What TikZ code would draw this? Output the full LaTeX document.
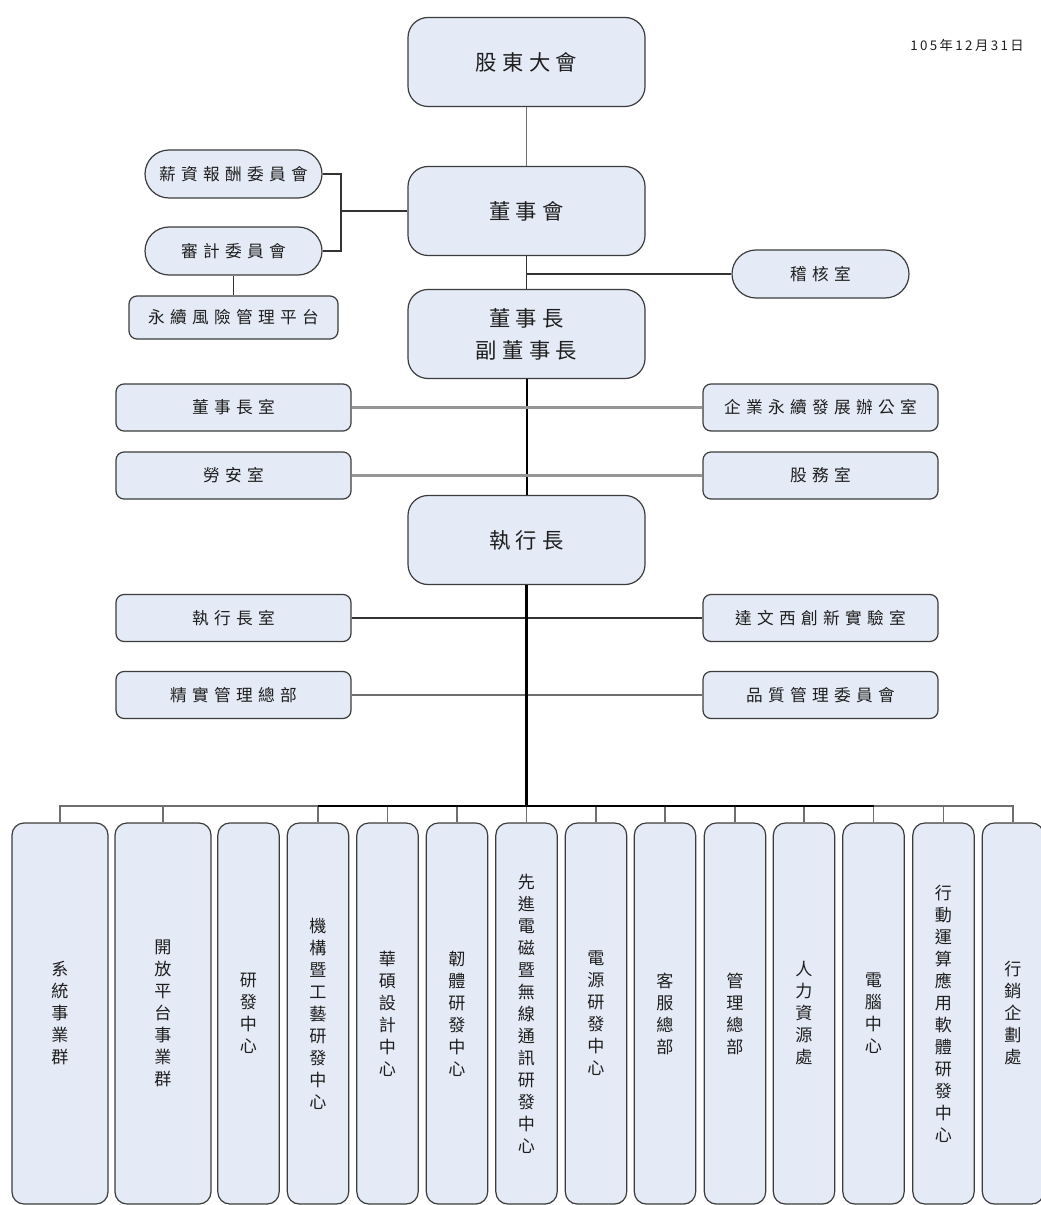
\documentclass[tikz,border=0pt]{standalone}
\usepackage{fontspec}
\newfontfamily\cjk{Noto Sans CJK TC}
\newfontfamily\cjkbig[LetterSpace=25]{Noto Sans CJK TC}
\newfontfamily\cjkmid[LetterSpace=32]{Noto Sans CJK TC}
\newfontfamily\cjkdate[LetterSpace=18]{Noto Sans CJK TC}
\definecolor{boxfill}{RGB}{229,235,246}
\definecolor{boxdraw}{RGB}{60,60,60}
\definecolor{txt}{RGB}{30,30,30}
\definecolor{lgray}{RGB}{150,150,150}
\definecolor{mgray}{RGB}{110,110,110}
\tikzset{
  basebox/.style={draw=boxdraw, fill=boxfill, line width=0.9pt, inner sep=0pt, align=center, text=txt},
  bigbox/.style={basebox, rounded corners=15pt, minimum width=177.75pt, minimum height=66.75pt, font={\cjkbig\fontsize{16}{24}\selectfont}},
  pillbox/.style={basebox, rounded corners=18pt, minimum width=132.75pt, minimum height=36pt, font={\cjkmid\fontsize{12.5}{15}\selectfont}},
  sidebox/.style={basebox, rounded corners=6pt, minimum width=176.25pt, minimum height=35.25pt, font={\cjkmid\fontsize{12.5}{15}\selectfont}},
  riskbox/.style={sidebox, minimum width=156.75pt, minimum height=32.25pt},
  vbox/.style={basebox, rounded corners=9pt, minimum height=285.75pt, font={\cjk\fontsize{12.8}{16.5}\selectfont}},
  widebox/.style={vbox, minimum width=72pt},
  narrowbox/.style={vbox, minimum width=46pt},
  thinline/.style={draw=mgray, line width=0.9pt},
  darkline/.style={draw=black!80, line width=1pt},
  blackline/.style={draw=black, line width=1.5pt},
  grayline/.style={draw=lgray, line width=1.6pt},
  busline/.style={draw=mgray, line width=0.9pt},
}
\begin{document}
\begin{tikzpicture}[x=0.75pt, y=-0.75pt]
\useasboundingbox (0,0) rectangle (1040,1205);
\fill[white] (0,0) rectangle (1040,1205);

% date
\node[font={\cjkdate\fontsize{10}{12}\selectfont}, text=txt] (date) at (967,45) {105年12月31日};

% top chain
\node[bigbox] (gd) at (526.5,62) {股東大會};
\node[bigbox] (bd) at (526.5,211) {董事會};
\node[bigbox] (ch) at (526.5,334) {董事長\\副董事長};
\node[bigbox] (ceo) at (526.5,540) {執行長};

% committees
\node[pillbox] (comp) at (233.5,174) {薪資報酬委員會};
\node[pillbox] (audit) at (233.5,251) {審計委員會};
\node[riskbox] (risk) at (233.5,317.5) {永續風險管理平台};
\node[pillbox] (ia) at (820.5,274) {稽核室};
\coordinate (cj) at (341,211);
\coordinate (iaj) at (526.5,274);

% side offices
\node[sidebox] (cho) at (233.5,407.5) {董事長室};
\node[sidebox] (ls) at (233.5,475.5) {勞安室};
\node[sidebox] (ceoo) at (233.5,618) {執行長室};
\node[sidebox] (lean) at (233.5,695) {精實管理總部};
\node[sidebox] (csr) at (820.5,407.5) {企業永續發展辦公室};
\node[sidebox] (sh) at (820.5,475.5) {股務室};
\node[sidebox] (dv) at (820.5,618) {達文西創新實驗室};
\node[sidebox] (qm) at (820.5,695) {品質管理委員會};

% bottom units
\node[widebox] (b1) at (60,1013.5) {系\\統\\事\\業\\群};
\node[widebox] (b2) at (163,1013.5) {開\\放\\平\\台\\事\\業\\群};
\node[narrowbox] (b3) at (248.5,1013.5) {研\\發\\中\\心};
\node[narrowbox] (b4) at (318,1013.5) {機\\構\\暨\\工\\藝\\研\\發\\中\\心};
\node[narrowbox] (b5) at (387.5,1013.5) {華\\碩\\設\\計\\中\\心};
\node[narrowbox] (b6) at (457,1013.5) {韌\\體\\研\\發\\中\\心};
\node[narrowbox] (b7) at (526.5,1013.5) {先\\進\\電\\磁\\暨\\無\\線\\通\\訊\\研\\發\\中\\心};
\node[narrowbox] (b8) at (596,1013.5) {電\\源\\研\\發\\中\\心};
\node[narrowbox] (b9) at (665,1013.5) {客\\服\\總\\部};
\node[narrowbox] (b10) at (735,1013.5) {管\\理\\總\\部};
\node[narrowbox] (b11) at (804,1013.5) {人\\力\\資\\源\\處};
\node[narrowbox] (b12) at (873.5,1013.5) {電\\腦\\中\\心};
\node[narrowbox] (b13) at (943.5,1013.5) {行\\動\\運\\算\\應\\用\\軟\\體\\研\\發\\中\\心};
\node[narrowbox] (b14) at (1013,1013.5) {行\\銷\\企\\劃\\處};
\coordinate (bus) at (526.5,806);

% connectors
\draw[thinline] (gd.south) -- (bd.north);
\draw[darkline] (bd.south) -- (ch.north);
\draw[darkline] (iaj) -- (ia.west);
\draw[blackline] (ch.south) -- (ceo.north);
\draw[grayline] (cho.east) -- (csr.west);
\draw[grayline] (ls.east) -- (sh.west);
\draw[darkline] (comp.east) -| (cj) |- (audit.east);
\draw[darkline, line width=1.4pt] (cj) -- (bd.west);
\draw[darkline] (audit.south) -- (risk.north);
\draw[darkline, line width=1.3pt] (ceoo.east) -- (dv.west);
\draw[thinline, line width=1.3pt] (lean.east) -- (qm.west);
\draw[blackline, line width=1.8pt] (ceo.south) -- (bus);
\foreach \b in {b1,b2,b4,b5,b6,b7,b8,b9,b10,b11,b12,b13,b14}
  \draw[busline] (\b.north) |- (bus);
\draw[blackline, line width=1.3pt] (b4.north |- bus) -- (b12.north |- bus);
\end{tikzpicture}
\end{document}
